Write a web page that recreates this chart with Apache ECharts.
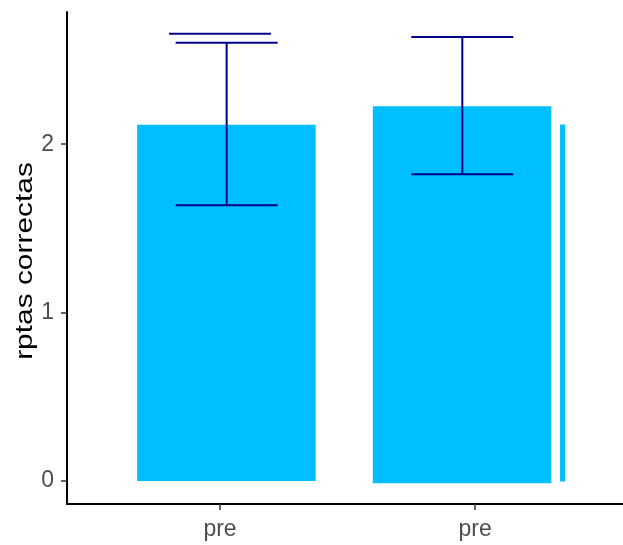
<!DOCTYPE html>
<html>
<head>
<meta charset="utf-8">
<script src="https://cdn.jsdelivr.net/npm/echarts@6/dist/echarts.min.js"></script>
<style>
html,body{margin:0;padding:0;background:#fff;}
#chart{width:623px;height:545px;}
</style>
</head>
<body>
<div id="chart"></div>
<script>
// ---- data ----
const categories = ['pre', 'pre'];
const categoryPos = [1, 2];
const yTicks = [0, 1, 2];
const yTitle = 'rptas correctas';
// bars: x position on category scale, bottom and top values
const barX = [1.025, 1.949, 2.343];
const barBottom = [0, -0.014, -0.004];
const barTop = [2.115, 2.225, 2.117];
// error bars
const errX = [1.026, 1.950];
const errLow = [1.637, 1.821];
const errHigh = [2.602, 2.636];
// stray cap without whisker
const extraCapX = [1.0];
const extraCapY = [2.656];

// ---- styling (not data) ----
const barHalfWidths = [0.35, 0.35, 0.0098];
const capHalf = 0.2;
const FONT = "'Liberation Sans', Arial, sans-serif";

const chart = echarts.init(document.getElementById('chart'), null, {renderer: 'canvas'});

const barData = barX.map((x, i) => [x, barBottom[i], barTop[i], barHalfWidths[i]]);
const errData = errX.map((x, i) => [x, errLow[i], errHigh[i]]);
const capData = extraCapX.map((x, i) => [x, extraCapY[i]]);

const option = {
  animation: false,
  backgroundColor: '#ffffff',
  grid: {left: 67, right: 0, top: 12, bottom: 41, containLabel: false},
  graphic: [{
    type: 'text',
    x: 26,
    y: 261,
    rotation: Math.PI / 2,
    scaleX: 1.3,
    style: {text: yTitle, fill: '#000', font: "23px 'Liberation Sans', Arial, sans-serif", align: 'center', verticalAlign: 'middle'}
  }],
  xAxis: {
    type: 'value',
    min: 0.4,
    max: 2.58,
    splitLine: {show: false},
    axisLine: {show: true, onZero: false, lineStyle: {color: '#000', width: 2}},
    axisTick: {show: true, customValues: categoryPos, length: 6, lineStyle: {color: '#333', width: 1.5}},
    axisLabel: {
      customValues: categoryPos,
      formatter: v => categories[categoryPos.indexOf(v)] || '',
      color: '#4D4D4D', fontSize: 23, fontFamily: FONT, margin: 14
    }
  },
  yAxis: {
    type: 'value',
    min: -0.137,
    max: 2.785,
    splitLine: {show: false},
    axisLine: {show: true, onZero: false, lineStyle: {color: '#000', width: 2}},
    axisTick: {show: true, customValues: yTicks, length: 6, lineStyle: {color: '#333', width: 1.5}},
    axisLabel: {customValues: yTicks, color: '#4D4D4D', fontSize: 23, fontFamily: FONT, margin: 13}
  },
  series: [
    {
      type: 'custom',
      data: barData,
      renderItem: (params, api) => {
        const x = api.value(0), b = api.value(1), t = api.value(2), h = api.value(3);
        const p1 = api.coord([x - h, t]);
        const p2 = api.coord([x + h, b]);
        return {
          type: 'rect',
          shape: {x: p1[0], y: p1[1], width: p2[0] - p1[0], height: p2[1] - p1[1]},
          style: {fill: '#00BFFF'}
        };
      },
      z: 2
    },
    {
      type: 'custom',
      data: errData,
      renderItem: (params, api) => {
        const x = api.value(0), lo = api.value(1), hi = api.value(2);
        const top = api.coord([x, hi]);
        const bot = api.coord([x, lo]);
        const tl = api.coord([x - capHalf, hi]);
        const tr = api.coord([x + capHalf, hi]);
        const bl = api.coord([x - capHalf, lo]);
        const br = api.coord([x + capHalf, lo]);
        const st = {stroke: '#00008B', lineWidth: 2};
        return {
          type: 'group',
          children: [
            {type: 'line', shape: {x1: top[0], y1: top[1], x2: bot[0], y2: bot[1]}, style: st},
            {type: 'line', shape: {x1: tl[0], y1: tl[1], x2: tr[0], y2: tr[1]}, style: st},
            {type: 'line', shape: {x1: bl[0], y1: bl[1], x2: br[0], y2: br[1]}, style: st}
          ]
        };
      },
      z: 3
    },
    {
      type: 'custom',
      data: capData,
      renderItem: (params, api) => {
        const x = api.value(0), y = api.value(1);
        const l = api.coord([x - capHalf, y]);
        const r = api.coord([x + capHalf, y]);
        return {type: 'line', shape: {x1: l[0], y1: l[1], x2: r[0], y2: r[1]}, style: {stroke: '#00008B', lineWidth: 2}};
      },
      z: 3
    }
  ]
};
chart.setOption(option);
</script>
</body>
</html>
